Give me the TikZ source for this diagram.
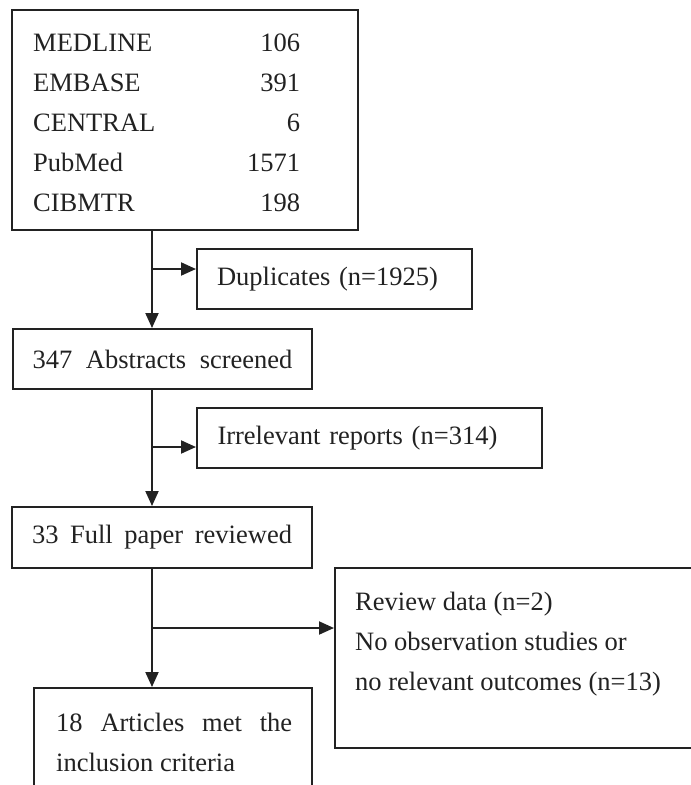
\documentclass[tikz,border=0pt]{standalone}
\usepackage{fontspec}
\setmainfont{Liberation Serif}
\usetikzlibrary{arrows.meta}
\definecolor{ink}{HTML}{222222}
\begin{document}
\begin{tikzpicture}[x=1pt,y=-1pt,
  txt/.style={font=\fontsize{26.5}{40}\selectfont, text=ink},
  box/.style={draw=ink, line width=2pt, inner sep=0pt, txt},
  lbl/.style={inner sep=0pt, txt},
  conn/.style={draw=ink, line width=2pt},
  arr/.style={conn, -{Triangle[length=15pt,width=13pt]}}]
\clip (0,0) rectangle (691,785);
\useasboundingbox (0,0) rectangle (691,785);
\fill[white] (0,0) rectangle (691,785);

% boxes
\node[box, line width=2.6pt, minimum width=346pt, minimum height=220pt] (src) at (185,120) {};
\node[lbl, anchor=west] (srclist) at (33,123) {\begin{tabular*}{267pt}{@{}l@{\extracolsep{\fill}}r@{}}
MEDLINE & 106\\ EMBASE & 391\\ CENTRAL & 6\\ PubMed & 1571\\ CIBMTR & 198\end{tabular*}};

\node[box, minimum width=275pt, minimum height=60pt, text width=235pt, align=left, inner xsep=20pt] (dup) at (334.5,279) {Duplicates (n=1925)};
\node[box, minimum width=299pt, minimum height=60pt] (abs) at (162.5,359) {\makebox[260pt][s]{347 Abstracts screened}};
\node[box, minimum width=345pt, minimum height=60pt, text width=304pt, align=left, inner xsep=20.5pt] (irr) at (369.5,438) {Irrelevant reports (n=314)};
\node[box, minimum width=300pt, minimum height=61pt] (full) at (162,537.5) {\makebox[260pt][s]{33 Full paper reviewed}};
\node[box, minimum width=370pt, minimum height=180pt] (excl) at (520,658) {};
\node[lbl, anchor=west, align=left] (excltxt) at (355,644) {Review data (n=2)\\No observation studies or\\no relevant outcomes (n=13)};
\node[box, minimum width=278pt, minimum height=130pt] (incl) at (173,753) {};
\node[lbl, anchor=west, align=left] (incltxt) at (56,742) {\makebox[236pt][s]{18 Articles met the}\\inclusion criteria};

% connectors
\coordinate (sx) at (152,0);
\coordinate (b1) at (152,269);
\coordinate (b2) at (152,447);
\coordinate (b3) at (152,628);
\draw[arr] (src.south -| sx) -- (abs.north -| sx);
\draw[arr] (b1) -- (dup.west |- b1);
\draw[arr] (abs.south -| sx) -- (full.north -| sx);
\draw[arr] (b2) -- (irr.west |- b2);
\draw[arr] (full.south -| sx) -- (incl.north -| sx);
\draw[arr] (b3) -- (excl.west |- b3);
\end{tikzpicture}
\end{document}
